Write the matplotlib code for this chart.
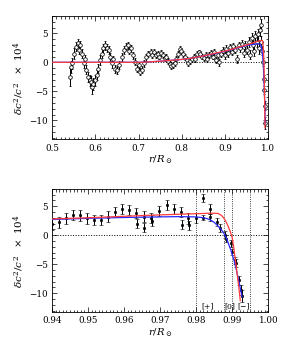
import matplotlib
matplotlib.use("Agg")
import matplotlib.pyplot as plt
from matplotlib.ticker import MultipleLocator

# --- data ---
# top panel: inversion results (open circles)
r_top = [0.541, 0.543, 0.547, 0.552, 0.556, 0.559, 0.562, 0.565, 0.569, 0.573,
         0.576, 0.579, 0.583, 0.587, 0.591, 0.593, 0.595, 0.599, 0.603, 0.607,
         0.611, 0.615, 0.619, 0.623, 0.627, 0.631, 0.635, 0.639, 0.642, 0.645,
         0.651, 0.656, 0.661, 0.667, 0.672, 0.676, 0.679, 0.682, 0.687, 0.692,
         0.697, 0.700, 0.703, 0.707, 0.713, 0.718, 0.723, 0.728, 0.732, 0.736,
         0.740, 0.744, 0.748, 0.752, 0.756, 0.760, 0.764, 0.768, 0.772, 0.776,
         0.780, 0.784, 0.787, 0.791, 0.795, 0.799, 0.803, 0.807, 0.811, 0.815,
         0.819, 0.823, 0.827, 0.831, 0.835, 0.839, 0.843, 0.847, 0.851, 0.855,
         0.859, 0.863, 0.867, 0.871, 0.875, 0.879, 0.883, 0.887, 0.891, 0.895,
         0.899, 0.903, 0.907, 0.911, 0.915, 0.919, 0.923, 0.927, 0.931, 0.935,
         0.939, 0.943, 0.947, 0.951, 0.955, 0.958, 0.961, 0.964, 0.967, 0.970,
         0.973, 0.976, 0.978, 0.980, 0.982, 0.984, 0.986, 0.988, 0.9895, 0.991,
         0.992, 0.9927]
dc_top = [-2.5, -0.8, -0.2, 1.5, 2.7, 3.3, 2.2, 2.9, 1.5, -0.2,
          0.6, -1.3, -2.5, -3.1, -3.4, -4.3, -3.7, -3.1, -2.2, -1.1,
          0.4, 1.5, 2.4, 2.9, 2.4, 2.1, 0.9, -0.2, 0.5, -1.1,
          -1.3, -0.5, 0.9, 2.1, 2.7, 2.9, 2.0, 2.4, 1.2, 0.1,
          -1.1, -0.5, -1.6, -1.3, -0.2, 0.9, 1.5, 1.8, 1.2, 1.8,
          1.3, 1.5, 1.0, 1.6, 1.3, 0.7, 0.9, 0.2, -0.3, -0.7,
          -0.5, -0.2, 0.6, 1.5, 2.3, 1.9, 1.5, 0.9, 0.4, -0.2,
          0.2, 0.5, 1.0, 0.6, 1.4, 1.7, 1.5, 1.0, 0.7, 1.2,
          0.5, 1.3, 1.6, 1.0, 1.8, 0.4, 1.2, 0.0, 1.5, 2.0,
          1.2, 2.3, 1.6, 2.6, 1.8, 2.8, 2.2, 0.5, 2.9, 2.4,
          3.2, 1.6, 3.0, 2.2, 3.5, 1.3, 4.2, 3.0, 2.0, 4.5,
          3.5, 4.8, 2.5, 5.5, 6.4, 3.5, 2.0, 0.0, -2.8, -4.7,
          -7.5, -10.5]
err_top = [1.6, 1.0, 0.9, 0.9, 0.8, 0.7, 0.8, 0.7, 0.8, 0.8,
           0.7, 0.8, 0.9, 0.9, 1.0, 1.1, 1.0, 0.9, 0.9, 0.8,
           0.8, 0.8, 0.8, 0.7, 0.7, 0.7, 0.7, 0.7, 0.6, 0.7,
           0.7, 0.7, 0.7, 0.7, 0.6, 0.6, 0.6, 0.6, 0.6, 0.6,
           0.6, 0.6, 0.6, 0.6, 0.6, 0.6, 0.5, 0.5, 0.5, 0.5,
           0.5, 0.5, 0.5, 0.5, 0.5, 0.5, 0.5, 0.5, 0.5, 0.5,
           0.5, 0.5, 0.5, 0.5, 0.5, 0.5, 0.5, 0.5, 0.5, 0.5,
           0.5, 0.5, 0.5, 0.5, 0.5, 0.5, 0.5, 0.5, 0.5, 0.5,
           0.5, 0.5, 0.5, 0.5, 0.5, 0.5, 0.5, 0.6, 0.6, 0.6,
           0.6, 0.6, 0.6, 0.6, 0.6, 0.6, 0.6, 0.7, 0.6, 0.7,
           0.7, 0.7, 0.7, 0.8, 0.8, 0.8, 0.8, 0.8, 0.9, 0.9,
           0.9, 1.0, 1.0, 1.0, 1.0, 1.0, 0.8, 0.7, 0.6, 0.7,
           0.8, 1.0]

# bottom panel: near-surface inversion (filled points)
r_bot = [0.9400, 0.9419, 0.9438, 0.9457, 0.9477, 0.9496, 0.9516, 0.9535, 0.9555,
         0.9574, 0.9594, 0.9614, 0.9634, 0.9636, 0.9654, 0.9656, 0.9674, 0.9678,
         0.9698, 0.9719, 0.9738, 0.9758, 0.9760, 0.9778, 0.9780, 0.9798, 0.9818,
         0.9818, 0.9838, 0.9838, 0.9858, 0.9865, 0.9879, 0.9882, 0.9895, 0.9898,
         0.9908, 0.9911, 0.9919, 0.9923, 0.9926]
dc_bot = [1.9, 2.2, 2.9, 3.5, 3.4, 2.9, 2.6, 2.6, 3.2,
          4.0, 4.5, 4.3, 3.8, 2.0, 3.2, 1.3, 3.0, 2.5,
          4.2, 5.2, 4.5, 4.0, 1.8, 2.9, 1.7, 3.0, 6.4,
          3.0, 4.5, 3.1, 2.3, 1.2, 0.1, -0.6, -1.4, -2.9,
          -4.3, -4.8, -7.8, -9.5, -10.5]
err_bot = [1.0, 0.9, 0.9, 0.9, 0.9, 0.9, 0.9, 0.9, 0.9,
           0.9, 0.9, 0.9, 0.9, 0.8, 0.9, 0.8, 0.9, 0.9,
           0.9, 0.9, 0.9, 0.9, 0.8, 0.9, 0.8, 0.9, 0.7,
           0.4, 0.9, 0.6, 0.7, 0.7, 0.6, 0.6, 0.6, 0.6,
           0.6, 0.7, 0.8, 0.9, 1.0]

# model profiles
r_red = [0.50, 0.70, 0.72, 0.75, 0.77, 0.80, 0.82, 0.85, 0.87, 0.90, 0.92,
         0.94, 0.95, 0.96, 0.97, 0.975, 0.98, 0.984, 0.986, 0.9865, 0.987,
         0.9875, 0.988, 0.9885, 0.989, 0.9895, 0.990, 0.9905, 0.991, 0.9915,
         0.992, 0.9922]
dc_red = [0.0, 0.0, 0.05, 0.2, 0.3, 0.5, 0.7, 1.1, 1.45, 1.95, 2.35,
          2.8, 3.0, 3.25, 3.5, 3.6, 3.7, 3.8, 3.75, 3.6, 3.4,
          3.05, 2.6, 2.0, 1.3, 0.5, -0.5, -2.6, -5.0, -7.5,
          -10.0, -11.3]
r_blue = [0.50, 0.70, 0.72, 0.75, 0.77, 0.80, 0.82, 0.85, 0.87, 0.90, 0.92,
          0.94, 0.95, 0.96, 0.97, 0.975, 0.98, 0.982, 0.983, 0.984, 0.985,
          0.986, 0.987, 0.9875, 0.988, 0.9885, 0.989, 0.9895, 0.990, 0.9905,
          0.991, 0.9915, 0.992, 0.9927]
dc_blue = [0.0, 0.0, 0.05, 0.2, 0.3, 0.5, 0.7, 1.1, 1.4, 1.9, 2.3,
           2.7, 2.9, 3.05, 3.15, 3.2, 3.15, 3.0, 2.85, 2.6, 2.2,
           1.6, 0.9, 0.45, 0.0, -0.7, -1.6, -2.4, -3.4, -4.4,
           -5.7, -7.0, -8.5, -10.6]

# zone boundaries and labels in the bottom panel
zone_lines = [0.980, 0.9877, 0.990, 0.995]
zone_labels = ["[+]", "[0]", "[\u2212]"]
zone_label_r = [0.9832, 0.9893, 0.9930]

RED = "#ff3a3a"
BLUE = "#2a2aff"
plt.rcParams["font.family"] = "DejaVu Serif"
plt.rcParams["mathtext.fontset"] = "dejavuserif"

fig = plt.figure(figsize=(2.84, 3.46), dpi=100)
ax1 = fig.add_axes([0.183, 0.597, 0.762, 0.357])
ax2 = fig.add_axes([0.183, 0.0974, 0.762, 0.357])

ylab = r"$\delta c^2/c^2\ \ \times\ 10^4$"
xlab = r"$r/R_\odot$"


def style(ax, xmaj, xmin):
    ax.set_ylim(-13.3, 8.0)
    ax.xaxis.set_major_locator(MultipleLocator(xmaj))
    ax.xaxis.set_minor_locator(MultipleLocator(xmin))
    ax.yaxis.set_major_locator(MultipleLocator(5))
    ax.yaxis.set_minor_locator(MultipleLocator(1))
    ax.tick_params(which="both", direction="in", top=True, right=True,
                   labelsize=6.3, width=0.5, pad=3)
    ax.tick_params(which="major", length=3.5)
    ax.tick_params(which="minor", length=1.8)
    for sp in ax.spines.values():
        sp.set_linewidth(0.6)
    ax.set_ylabel(ylab, fontsize=7.5, labelpad=2)
    ax.set_xlabel(xlab, fontsize=7.2, labelpad=1)
    ax.axhline(0, color="k", ls=":", lw=0.7, zorder=1)


# top panel
ax1.set_xlim(0.5, 1.0)
style(ax1, 0.1, 0.01)
ax1.errorbar(r_top, dc_top, yerr=err_top, fmt="o", ms=2.6, mfc="white",
             mec="black", mew=0.55, ecolor="black", elinewidth=0.7,
             capsize=1.0, capthick=0.6, zorder=2)
ax1.plot(r_blue, dc_blue, color=BLUE, lw=0.9, zorder=3)
ax1.plot(r_red, dc_red, color=RED, lw=0.9, zorder=4)
ax1.xaxis.set_major_formatter(plt.FuncFormatter(lambda v, p: f"{v:.1f}"))

# bottom panel
ax2.set_xlim(0.94, 1.0)
style(ax2, 0.01, 0.001)
for r in zone_lines:
    ax2.axvline(r, color="k", ls=":", lw=0.6, zorder=1)
ax2.errorbar(r_bot, dc_bot, yerr=err_bot, fmt="o", ms=1.8, mfc="black",
             mec="black", mew=0.4, ecolor="black", elinewidth=0.7,
             capsize=1.2, capthick=0.6, zorder=2)
ax2.plot(r_blue, dc_blue, color=BLUE, lw=0.9, zorder=3)
ax2.plot(r_red, dc_red, color=RED, lw=0.9, zorder=4)
for lab, r in zip(zone_labels, zone_label_r):
    ax2.text(r, -12.3, lab, fontsize=5.5, ha="center", va="center", zorder=5)
ax2.xaxis.set_major_formatter(plt.FuncFormatter(lambda v, p: f"{v:.2f}"))

fig.savefig("out.png", dpi=100)
